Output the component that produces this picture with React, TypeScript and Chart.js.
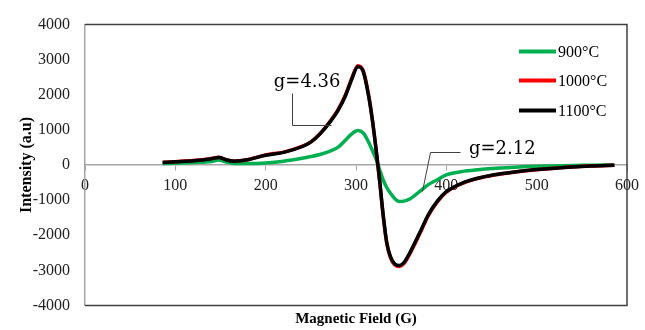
import { useEffect, useRef } from "react";
import { Chart, registerables } from "chart.js";

Chart.register(...registerables);

// Magnetic field (G)
const fieldG = [86, 100, 120, 140, 148, 156, 165, 180, 200, 220, 240, 250, 260, 272, 280, 288, 295, 302, 308, 314, 318, 322, 326, 330, 334, 338, 343, 348, 353, 360, 372, 380, 390, 400, 420, 440, 460, 480, 500, 530, 560, 586];

// Intensity (a.u)
const int900 = [40, 50, 70, 100, 140, 85, 45, 40, 60, 110, 190, 240, 300, 400, 500, 700, 880, 980, 910, 650, 420, 180, -120, -420, -640, -800, -960, -1040, -1030, -960, -720, -560, -420, -280, -175, -120, -85, -55, -35, -18, -8, 0];
const int1000 = [75, 95, 125, 185, 222, 155, 112, 152, 288, 368, 528, 660, 890, 1270, 1570, 1980, 2450, 2830, 2690, 1990, 1320, 500, -420, -1430, -2230, -2630, -2850, -2890, -2810, -2510, -1880, -1440, -1050, -775, -500, -350, -258, -186, -134, -72, -32, -10];
const int1100 = [70, 90, 120, 180, 215, 150, 110, 150, 280, 360, 520, 650, 880, 1250, 1550, 1950, 2420, 2800, 2660, 1960, 1300, 490, -400, -1400, -2200, -2600, -2820, -2860, -2780, -2480, -1850, -1420, -1030, -760, -490, -345, -252, -182, -131, -70, -30, -10];

const seriesLabels = ["900°C", "1000°C", "1100°C"];
const seriesColors = ["#00B050", "#FF0000", "#000000"];

const xTickValues = [0, 100, 200, 300, 400, 500, 600];
const yTickValues = [-4000, -3000, -2000, -1000, 0, 1000, 2000, 3000, 4000];

const xTitle = "Magnetic Field (G)";
const yTitle = "Intensity (a.u)";

// g-value annotations: text anchor and leader line, in data units (G, a.u)
const gLabelTexts = ["g=4.36", "g=2.12"];
const gLabelAnchors = [
  [209, 2220],
  [425, 301],
];
const gLeaders = [
  [
    [228.6, 2050],
    [228.6, 1140],
    [272, 1140],
  ],
  [
    [415.4, 376],
    [382.4, 376],
    [373.6, -740],
  ],
];

const SERIF = "'Liberation Serif', 'Times New Roman', serif";

const framePlugin = {
  id: "frame",
  afterDraw(chart: any) {
    const { ctx, chartArea } = chart;
    ctx.save();
    ctx.strokeStyle = "#404040";
    ctx.lineWidth = 1.5;
    ctx.beginPath();
    ctx.moveTo(chartArea.left, chartArea.top);
    ctx.lineTo(chartArea.right, chartArea.top);
    ctx.lineTo(chartArea.right, chartArea.bottom);
    ctx.lineTo(chartArea.left, chartArea.bottom);
    ctx.stroke();
    ctx.restore();
  },
};

const legendPlugin = {
  id: "insideLegend",
  afterDraw(chart: any) {
    const { ctx, chartArea } = chart;
    const ds = chart.data.datasets;
    ctx.save();
    ctx.font = `16px ${SERIF}`;
    ctx.textBaseline = "middle";
    ctx.textAlign = "left";
    const offs = [27, 56, 86];
    ds.forEach((d: any, i: number) => {
      const y = chartArea.top + offs[i];
      const x0 = chartArea.right - 108;
      ctx.strokeStyle = d.borderColor;
      ctx.lineWidth = 4;
      ctx.lineCap = "butt";
      ctx.beginPath();
      ctx.moveTo(x0, y);
      ctx.lineTo(x0 + 37, y);
      ctx.stroke();
      ctx.fillStyle = "#000";
      ctx.fillText(d.label, x0 + 39, y + 1);
    });
    ctx.restore();
  },
};

const gLabelPlugin = {
  id: "gLabels",
  afterDatasetsDraw(chart: any) {
    const { ctx } = chart;
    const xs = chart.scales.x;
    const ys = chart.scales.y;
    ctx.save();
    ctx.strokeStyle = "#404040";
    ctx.lineWidth = 1;
    gLeaders.forEach((pts) => {
      ctx.beginPath();
      pts.forEach((p, i) => {
        const px = Math.round(xs.getPixelForValue(p[0])) + 0.5;
        const py = Math.round(ys.getPixelForValue(p[1])) + 0.5;
        if (i === 0) ctx.moveTo(px, py);
        else ctx.lineTo(px, py);
      });
      ctx.stroke();
    });
    ctx.font = "18px 'DejaVu Serif', serif";
    ctx.fillStyle = "#000";
    ctx.textAlign = "left";
    ctx.textBaseline = "alphabetic";
    gLabelTexts.forEach((t, i) => {
      ctx.fillText(t, xs.getPixelForValue(gLabelAnchors[i][0]), ys.getPixelForValue(gLabelAnchors[i][1]));
    });
    ctx.restore();
  },
};

export default function App() {
  const ref = useRef<HTMLCanvasElement | null>(null);

  useEffect(() => {
    if (!ref.current) return;
    const seriesData = [int900, int1000, int1100];
    const chart = new Chart(ref.current, {
      type: "line",
      data: {
        datasets: seriesLabels.map((label, i) => ({
          label,
          data: fieldG.map((g, k) => ({ x: g, y: seriesData[i][k] })),
          borderColor: seriesColors[i],
          backgroundColor: seriesColors[i],
          borderWidth: 3.5,
          pointRadius: 0,
          cubicInterpolationMode: "monotone" as const,
          fill: false,
          order: 2 - i,
          xAxisID: "x",
          yAxisID: "y",
        })),
      },
      options: {
        animation: false,
        responsive: false,
        maintainAspectRatio: false,
        layout: { padding: { left: 0, top: 20, right: 14, bottom: 0 } },
        plugins: {
          legend: { display: false },
          tooltip: { enabled: false },
          title: { display: false },
        },
        scales: {
          x: {
            type: "linear",
            position: { y: 0 } as any,
            min: 0,
            max: 600,
            afterBuildTicks: (s: any) => {
              s.ticks = xTickValues.map((v) => ({ value: v }));
            },
            afterFit: (s: any) => {
              s.height = 0;
            },
            ticks: {
              padding: 6,
              color: "#222",
              font: { family: SERIF, size: 16 },
              maxRotation: 0,
              autoSkip: false,
              callback: (v: any) => String(v),
            },
            grid: { display: true, drawOnChartArea: false, drawTicks: true, tickLength: 5, color: "#a6a6a6", lineWidth: 1 },
            border: { display: true, color: "#a6a6a6", width: 1.5 },
          },
          x2: {
            type: "linear",
            position: "bottom",
            min: 0,
            max: 600,
            display: true,
            afterFit: (s: any) => {
              s.height = 23;
            },
            ticks: { display: false },
            grid: { display: false, drawTicks: false },
            border: { display: false },
            title: {
              display: true,
              text: xTitle,
              color: "#000",
              font: { family: SERIF, size: 15, weight: "bold" },
              padding: { top: 0, bottom: 0 },
            },
          },
          y: {
            type: "linear",
            position: "left",
            min: -4000,
            max: 4000,
            afterBuildTicks: (s: any) => {
              s.ticks = yTickValues.map((v) => ({ value: v }));
            },
            afterFit: (s: any) => {
              s.width = 85;
            },
            ticks: {
              padding: 15,
              color: "#222",
              font: { family: SERIF, size: 16 },
              callback: (v: any) => String(v),
            },
            grid: { display: false, drawTicks: false },
            border: { display: true, color: "#a6a6a6", width: 1.5 },
            title: {
              display: true,
              text: yTitle,
              color: "#000",
              font: { family: SERIF, size: 16, weight: "bold" },
              padding: { top: 17, bottom: 0 },
            },
          },
        },
      },
      plugins: [framePlugin, legendPlugin, gLabelPlugin],
    } as any);
    return () => chart.destroy();
  }, []);

  return (
    <div style={{ position: "absolute", left: 0, top: 0, width: 645, height: 330, background: "#fff" }}>
      <canvas ref={ref} width={645} height={330} style={{ width: 645, height: 330, display: "block" }} />
    </div>
  );
}
